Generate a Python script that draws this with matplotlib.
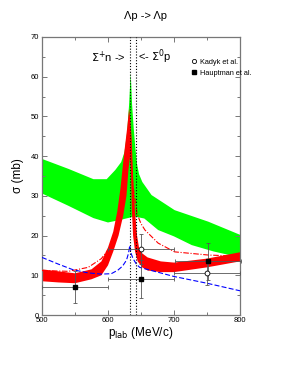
import matplotlib
matplotlib.use("Agg")
import matplotlib.pyplot as plt
from matplotlib.lines import Line2D
from matplotlib.ticker import MultipleLocator

plt.rcParams['font.family'] = ['Liberation Sans', 'DejaVu Sans']

# green band (upper / lower edge)
green_up_x = [500, 540, 578, 598, 611, 620, 625, 629, 632, 634.4, 636.5, 639, 641.5, 644, 647, 652, 666, 701, 752, 800]
green_up_y = [39.3, 36.8, 34.2, 34.2, 36.5, 38.5, 41, 46, 53, 61, 53, 47, 42, 38, 35.5, 33.5, 30.2, 26.4, 23.5, 20.2]
green_lo_x = [500, 540, 578, 600, 620, 640, 655, 676, 700, 727, 760, 800]
green_lo_y = [30.6, 27.5, 24.4, 23.3, 24.0, 24.8, 24.3, 21.4, 19.8, 17.6, 16.0, 14.5]

# red band (upper / lower edge)
red_up_x = [500, 550, 575, 590, 600, 608, 614, 619, 624, 629, 632, 634, 636, 638, 641, 644, 647, 652, 660, 680, 700, 750, 800]
red_up_y = [11.5, 10.5, 11.5, 13.5, 17, 21, 26, 32, 40, 47, 52, 49, 44, 35, 26, 20, 17, 15.5, 14.5, 13.5, 13.2, 14.2, 15.8]
red_lo_x = [500, 525, 550, 575, 590, 600, 608, 616, 623, 628, 631, 633.5, 635, 636, 638, 641, 645, 652, 660, 680, 700, 750, 800]
red_lo_y = [8.5, 8.2, 8.0, 9.0, 10.0, 12.5, 16, 20, 25, 30, 36.5, 40, 35, 27, 20, 16, 13.5, 12.0, 11.2, 10.8, 10.8, 12.0, 13.5]

# red dash-dot curve
dd_x = [500, 540, 570, 590, 605, 615, 622, 627, 631, 633, 635, 637, 640, 644, 650, 656, 676, 701, 752, 800]
dd_y = [11.2, 11.0, 12.0, 14.2, 17.5, 22, 28, 35, 42, 46, 40, 34, 30, 25.5, 23, 21.4, 18.1, 15.9, 15.1, 14.8]

# blue dashed curve
bl_x = [500, 525, 547, 570, 590, 605, 615, 622, 628, 631, 633, 635, 638, 643, 648, 675, 700, 750, 800]
bl_y = [14.5, 12.8, 11.4, 10.6, 10.3, 10.4, 11.3, 12.3, 13.8, 15.5, 17.5, 15.5, 14.2, 12.8, 12.0, 10.8, 9.7, 8.0, 6.1]

# data points
kadyk_x = [650, 750]
kadyk_y = [16.6, 10.7]
kadyk_xerr = [50, 50]
kadyk_yerr = [3.7, 3.2]

haupt_x = [550, 650, 752]
haupt_y = [7.0, 9.0, 13.5]
haupt_xerr = [50, 50, 50]
haupt_yerr = [4.0, 4.8, 4.7]

thresholds = [633, 642]

fig = plt.figure(figsize=(2.91, 3.76), dpi=100)
ax = fig.add_axes([0.1443, 0.1622, 0.6804, 0.7394])

ax.fill(green_up_x + green_lo_x[::-1], green_up_y + green_lo_y[::-1],
        color='#00ff00', lw=0, zorder=1)
ax.fill(red_up_x + red_lo_x[::-1], red_up_y + red_lo_y[::-1],
        color='#ff0000', lw=0, zorder=2)
ax.plot(dd_x, dd_y, color='#ff0000', lw=0.8, dashes=[5, 1.5, 1, 1.5], zorder=3)
ax.plot(bl_x, bl_y, color='#0000ff', lw=0.8, dashes=[4.5, 2], zorder=3)

for t in thresholds:
    ax.axvline(t, color='black', lw=0.8, ls=(0, (1, 1.6)), zorder=4)

ax.errorbar(kadyk_x, kadyk_y, xerr=kadyk_xerr, yerr=kadyk_yerr, fmt='o',
            ms=3.5, mfc='white', mec='black', mew=0.6, ecolor='#555555',
            elinewidth=0.6, capsize=1.5, capthick=0.6, zorder=5, clip_on=False)
ax.errorbar(haupt_x, haupt_y, xerr=haupt_xerr, yerr=haupt_yerr, fmt='s',
            ms=3, mfc='black', mec='black', ecolor='#555555',
            elinewidth=0.6, capsize=1.5, capthick=0.6, zorder=5, clip_on=False)

ax.text(627, 65, r'$\Sigma^{+}$n ->', ha='right', va='center', fontsize=8)
ax.text(646, 65, r'<- $\Sigma^{0}$p', ha='left', va='center', fontsize=8)

handles = [Line2D([], [], ls='none', marker='o', ms=3, mfc='white', mec='black', mew=0.6),
           Line2D([], [], ls='none', marker='s', ms=2.5, mfc='black', mec='black')]
ax.legend(handles, ['Kadyk et al.', 'Hauptman et al.'], loc='upper left',
          bbox_to_anchor=(0.715, 0.945), frameon=False, fontsize=5.3,
          handlelength=1.0, handletextpad=0.4, labelspacing=0.5)

ax.set_xlim(500, 800)
ax.set_ylim(0, 70)
ax.xaxis.set_major_locator(MultipleLocator(100))
ax.xaxis.set_minor_locator(MultipleLocator(50))
ax.yaxis.set_major_locator(MultipleLocator(10))
ax.yaxis.set_minor_locator(MultipleLocator(5))
ax.tick_params(which='both', direction='in', top=True, right=True,
               colors='#777777', labelcolor='black', labelsize=5.5, width=0.7)
ax.tick_params(which='major', length=3.5)
ax.tick_params(which='minor', length=2)
ax.tick_params(axis='x', pad=1.5)
ax.tick_params(axis='y', pad=2)
for s in ax.spines.values():
    s.set_color('#777777')
    s.set_linewidth(0.9)

ax.set_xlabel(r'p$_{\mathrm{lab}}$ (MeV/c)', fontsize=8.5, labelpad=1)
ax.set_ylabel('σ (mb)', fontsize=8.5, labelpad=5)
fig.text(0.5, 0.957, 'Λp -> Λp', ha='center', va='center', fontsize=8)

fig.savefig('out.png', dpi=100)
